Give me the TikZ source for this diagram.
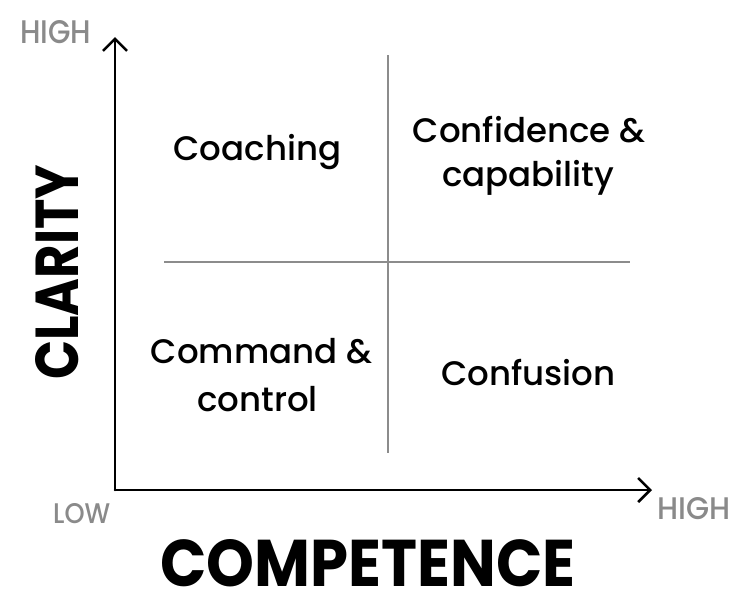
\documentclass[tikz,border=0pt]{standalone}
\usepackage{fontspec}
\setmainfont{Poppins}
\newfontfamily\popmed{Poppins Medium}
\usetikzlibrary{arrows.meta}
\definecolor{axisgrey}{HTML}{8A8A8A}
\definecolor{linegrey}{HTML}{8C8C8C}
\tikzset{
  quad/.style={inner sep=0pt, anchor=base, font=\popmed\fontsize{34}{40}\selectfont, text=black},
  greylabel/.style={inner sep=0pt, anchor=base west, text=axisgrey, font=\popmed},
  bigaxis/.style={inner sep=0pt, anchor=base west, text=black},
  axisline/.style={line width=2.6pt, black, line cap=round, line join=round},
  divider/.style={line width=2pt, linegrey},
  axistip/.style={-{Straight Barb[length=12pt,width=24pt,line width=2.6pt]}}
}
\begin{document}
\begin{tikzpicture}[x=1pt,y=-1pt]
\useasboundingbox[fill=white] (0,0) rectangle (745,606);
% axes
\coordinate (O) at (115,490);
\coordinate (ytop) at (115,37);
\coordinate (xend) at (652,490);
\draw[axisline,axistip] (O) -- (ytop);
\draw[axisline,axistip] (O) -- (xend);
% dividers
\coordinate (vtop) at (388,55);
\coordinate (vbot) at (388,453);
\coordinate (hl) at (164,262);
\coordinate (hr) at (630,262);
\draw[divider] (vtop) -- (vbot);
\draw[divider] (hl) -- (hr);
% grey labels
\node[greylabel] (hightop) at (20,43) {\resizebox{71pt}{23pt}{HIGH}};
\node[greylabel] (low) at (53,523) {\resizebox{57pt}{20pt}{LOW}};
\node[greylabel] (highright) at (657,519) {\resizebox{73pt}{22pt}{HIGH}};
% axis titles
\node[bigaxis] (competence) at (160,586) {\resizebox{415pt}{47pt}{\bfseries COMPETENCE}};
\node[bigaxis, rotate=90] (clarity) at (78,380) {\resizebox{215pt}{43pt}{\bfseries CLARITY}};
% quadrant labels
\node[quad] (coaching) at (257.5,160) {Coaching};
\node[quad] (conf1) at (529,142) {Confidence \&};
\node[quad] (conf2) at (528,186) {capability};
\node[quad] (cmd1) at (261.5,363) {Command \&};
\node[quad] (cmd2) at (257.5,411) {control};
\node[quad] (confusion) at (528.5,385) {Confusion};
\end{tikzpicture}
\end{document}
